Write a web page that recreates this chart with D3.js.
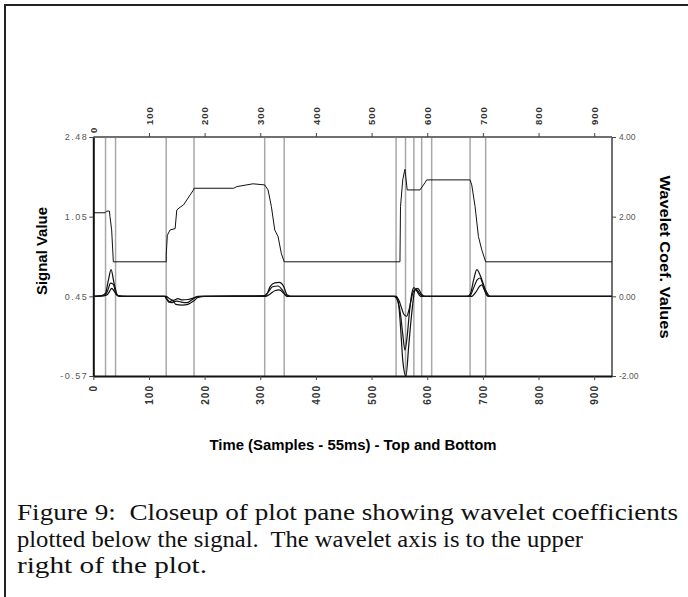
<!DOCTYPE html>
<html>
<head>
<meta charset="utf-8">
<script src="https://cdn.jsdelivr.net/npm/d3@7"></script>
<style>
  body { margin: 0; background: #fff; }
  .sans { font-family: "Liberation Sans", Arial, sans-serif; }
  .caption { font-family: "Liberation Serif", "Times New Roman", serif; white-space: pre; }
</style>
</head>
<body>
<svg width="688" height="597"></svg>
<script>
// signal trace (samples, signal value)
const sigX = [0,21,24,29,30,33,36,131,131,133,138,147,150,156,162,168,174,180,181,252,258,287,308,314,320,326,332,338,343,551,552,556,559,560,564,587,596,599,677,680,686,692,698,705,932]
const sigY = [1.12,1.12,1.15,1.15,1.05,0.95,0.71,0.71,0.76,0.91,0.95,0.96,1.17,1.22,1.26,1.35,1.44,1.53,1.56,1.56,1.59,1.64,1.62,1.53,1.23,0.95,0.90,0.77,0.71,0.71,1.23,1.71,1.86,1.90,1.53,1.53,1.66,1.71,1.71,1.62,1.23,0.90,0.80,0.71,0.71]

// wavelet coefficients, three levels: [sample, value]
const coefA = [[0,0],[15,0.02],[22,0.08],[27,0.4],[32,0.67],[37,0.35],[44,0.02],[60,0],[128,0],[131,-0.05],[136,-0.15],[142,-0.1],[148,-0.2],[160,-0.22],[170,-0.2],[180,-0.12],[188,-0.03],[200,0],[310,0.02],[318,0.25],[326,0.34],[334,0.35],[342,0.25],[348,0.04],[355,0],[540,0],[545,-0.05],[549,-0.25],[553.6,-1.1],[556,-1.6],[561.7,-2.0],[567,-1.2],[572,-0.45],[577.8,0.15],[583,0.2],[590,0.05],[596,0],[672,0],[677,0.05],[684,0.45],[689,0.67],[696,0.5],[705,0.15],[713,0],[932,0]]
const coefB = [[0,0],[20,0.02],[26,0.15],[31,0.33],[36,0.3],[41,0.05],[50,0],[129,0],[133,-0.08],[140,-0.16],[150,-0.12],[160,-0.15],[168,-0.16],[176,-0.1],[185,-0.02],[195,0],[305,0],[314,0.1],[322,0.24],[332,0.26],[340,0.15],[346,0.02],[352,0],[543,0],[548,-0.15],[552,-0.45],[556,-0.95],[560,-1.35],[564,-1.0],[568,-0.4],[572,0.05],[576,0.22],[582,0.12],[588,0],[676,0],[683,0.2],[690,0.42],[695,0.46],[700,0.3],[706,0.08],[710,0],[932,0]]
const coefC = [[0,0],[24,0.03],[29,0.12],[33,0.2],[38,0.12],[43,0.02],[48,0],[131,0],[136,-0.05],[144,-0.1],[152,-0.06],[160,-0.09],[170,-0.08],[180,-0.04],[188,0],[310,0],[318,0.06],[326,0.14],[334,0.16],[342,0.08],[348,0],[544,0],[549,-0.1],[554,-0.3],[558,-0.45],[563,-0.5],[567,-0.35],[571,-0.1],[575,0.12],[580,0.18],[586,0.08],[592,0],[680,0],[688,0.12],[694,0.25],[698,0.29],[702,0.18],[706,0.05],[710,0],[932,0]]

// event marker samples (gray verticals)
const markers = [22,40,131,181,308,343,544,561,576,590,608,677,705]

const xTicks = [0,100,200,300,400,500,600,700,800,900]
const sigTicks = [-0.57,0.45,1.05,2.48]
const wavTicks = [-2,0,2,4]

const caption = [
  "Figure 9:  Closeup of plot pane showing wavelet coefficients",
  "plotted below the signal.  The wavelet axis is to the upper",
  "right of the plot."
]
const captionWidths = [661, 566, 190]

const svg = d3.select("svg")
const plot = {left: 93.3, right: 612, top: 137, bottom: 376}

// outer frame
svg.append("rect")
  .attr("x", 5).attr("y", 5).attr("width", 720).attr("height", 720)
  .attr("fill", "none").attr("stroke", "#222").attr("stroke-width", 2)

const x = d3.scaleLinear().domain([0, 932]).range([plot.left, plot.right])
// signal axis labels sit at the thirds of the pane
const ySig = d3.scaleLinear().domain(sigTicks)
  .range([plot.bottom, plot.bottom - (plot.bottom - plot.top) / 3, plot.bottom - 2 * (plot.bottom - plot.top) / 3, plot.top])
const yWav = d3.scaleLinear().domain([-2, 4]).range([plot.bottom, plot.top])

// markers
svg.append("g").selectAll("line").data(markers).join("line")
  .attr("x1", d => x(d)).attr("x2", d => x(d))
  .attr("y1", plot.top).attr("y2", plot.bottom)
  .attr("stroke", "#a8a8a8").attr("stroke-width", 1.5)

// pane border: top/right gray, left/bottom black
svg.append("line").attr("x1", plot.left).attr("x2", plot.right).attr("y1", plot.top).attr("y2", plot.top)
  .attr("stroke", "#707070").attr("stroke-width", 2)
svg.append("line").attr("x1", plot.right).attr("x2", plot.right).attr("y1", plot.top).attr("y2", plot.bottom)
  .attr("stroke", "#707070").attr("stroke-width", 2)

const sigLine = d3.line().x((d, i) => x(sigX[i])).y(d => ySig(d))
svg.append("path").datum(sigY)
  .attr("d", sigLine)
  .attr("fill", "none").attr("stroke", "#111").attr("stroke-width", 1)

const wavLine = d3.line().x(d => x(d[0])).y(d => yWav(d[1])).curve(d3.curveMonotoneX)
;[coefA, coefB, coefC].forEach(c => {
  svg.append("path").datum(c)
    .attr("d", wavLine)
    .attr("fill", "none").attr("stroke", "#111").attr("stroke-width", 1.2)
})

// axes
const gBottom = svg.append("g")
  .attr("transform", `translate(0, ${plot.bottom})`)
  .call(d3.axisBottom(x).tickValues(xTicks).tickSize(4).tickSizeOuter(0))
gBottom.select(".domain").attr("stroke", "#111").attr("stroke-width", 2)
gBottom.selectAll("text")
  .attr("transform", "rotate(-90)")
  .attr("x", -9).attr("y", 0).attr("dy", "0.35em")
  .attr("text-anchor", "end")
  .attr("font-size", "10px").attr("font-weight", "bold")
  .attr("letter-spacing", "1px").attr("fill", "#333")

const gTop = svg.append("g")
  .attr("transform", `translate(0, ${plot.top})`)
  .call(d3.axisTop(x).tickValues(xTicks).tickSize(4).tickSizeOuter(0))
gTop.select(".domain").remove()
gTop.selectAll("text")
  .attr("transform", "rotate(-90)")
  .attr("x", d => d === 0 ? 4 : 12).attr("y", 0).attr("dy", "0.35em")
  .attr("text-anchor", "start")
  .attr("font-size", "9.5px").attr("font-weight", "bold")
  .attr("letter-spacing", "1px").attr("fill", "#333")
gTop.selectAll(".tick line").filter(d => d === 0).remove()

const gLeft = svg.append("g")
  .attr("transform", `translate(${plot.left}, 0)`)
  .call(d3.axisLeft(ySig).tickValues(sigTicks).tickFormat(d => d.toFixed(2)).tickSize(4).tickSizeOuter(0).tickPadding(1))
gLeft.select(".domain").attr("stroke", "#111").attr("stroke-width", 2)
gLeft.selectAll("text").attr("font-size", "9px").attr("letter-spacing", "1.5px").attr("fill", "#555")

const gRight = svg.append("g")
  .attr("transform", `translate(${plot.right}, 0)`)
  .call(d3.axisRight(yWav).tickValues(wavTicks).tickFormat(d => d.toFixed(2)).tickSize(4).tickSizeOuter(0).tickPadding(3))
gRight.select(".domain").remove()
gRight.selectAll("text").attr("font-size", "8.5px").attr("fill", "#555")
svg.selectAll(".tick line").attr("stroke", "#444")
svg.selectAll(".tick text").attr("font-family", "'Liberation Sans', Arial, sans-serif")

// axis titles
svg.append("text").attr("class", "sans")
  .attr("transform", "translate(47, 251) rotate(-90)")
  .attr("text-anchor", "middle")
  .attr("font-size", "14px").attr("font-weight", "bold")
  .attr("textLength", 88).attr("lengthAdjust", "spacingAndGlyphs")
  .text("Signal Value")

svg.append("text").attr("class", "sans")
  .attr("transform", "translate(660, 257) rotate(90)")
  .attr("text-anchor", "middle")
  .attr("font-size", "14px").attr("font-weight", "bold")
  .attr("textLength", 163).attr("lengthAdjust", "spacingAndGlyphs")
  .text("Wavelet Coef. Values")

svg.append("text").attr("class", "sans")
  .attr("x", 353).attr("y", 450)
  .attr("text-anchor", "middle")
  .attr("font-size", "14px").attr("font-weight", "bold")
  .attr("textLength", 287).attr("lengthAdjust", "spacingAndGlyphs")
  .text("Time (Samples - 55ms) - Top and Bottom")

// caption
svg.append("g").selectAll("text").data(caption).join("text")
  .attr("class", "caption")
  .attr("x", 17).attr("y", (d, i) => 520 + i * 26.7)
  .attr("font-size", "24px")
  .attr("textLength", (d, i) => captionWidths[i]).attr("lengthAdjust", "spacingAndGlyphs")
  .attr("fill", "#111")
  .text(d => d)
</script>
</body>
</html>
